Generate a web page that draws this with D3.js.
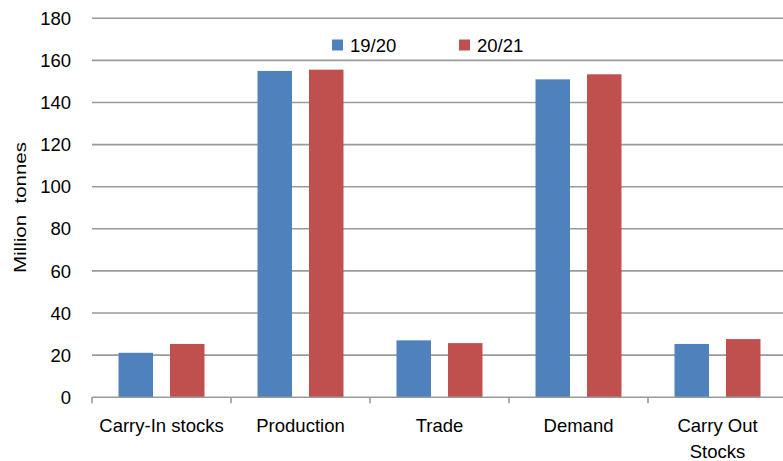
<!DOCTYPE html>
<html>
<head>
<meta charset="utf-8">
<script src="https://cdn.jsdelivr.net/npm/d3@7"></script>
<style>
  html, body { margin: 0; padding: 0; background: #fff; }
  svg { display: block; }
  text { font-family: "Liberation Sans", Arial, sans-serif; fill: #000; }
</style>
</head>
<body>
<svg id="chart" width="783" height="461"></svg>
<script>
const categories = ["Carry-In stocks", "Production", "Trade", "Demand", "Carry Out Stocks"];
const seriesNames = ["19/20", "20/21"];
const values1920 = [21.1, 155.0, 27.0, 151.0, 25.3];
const values2021 = [25.3, 155.6, 25.7, 153.4, 27.6];
const yTicks = [0, 20, 40, 60, 80, 100, 120, 140, 160, 180];
const colors = ["#4F81BD", "#C0504D"];
const yLabel = "Million\u00A0\u00A0tonnes";

(function () {
const svg = d3.select("#chart");
const W = 783;
const pLeft = 92, pRight = 787, pTop = 18.3, pBottom = 397.2;

const x = d3.scaleBand().domain(categories).range([pLeft, pRight]).padding(0);
const xs = d3.scaleBand().domain(seriesNames).range([0, x.bandwidth()]).paddingInner(0.33).paddingOuter(0.515);
const y = d3.scaleLinear().domain([0, 180]).range([pBottom, pTop]);

// gridlines
svg.append("g").selectAll("line").data(yTicks.filter(d => d > 0)).join("line")
  .attr("x1", pLeft).attr("x2", W)
  .attr("y1", d => y(d)).attr("y2", d => y(d))
  .attr("stroke", "#9a9a9a").attr("stroke-width", 1.6);

// y tick labels
svg.append("g").selectAll("text").data(yTicks).join("text")
  .attr("x", 71).attr("y", d => y(d)).attr("dy", "0.36em")
  .attr("text-anchor", "end").style("font-size", "18.5px")
  .text(d => d);

// bars
const data = categories.map((c, i) => ({ c, vals: [values1920[i], values2021[i]] }));
const groups = svg.append("g").selectAll("g").data(data).join("g")
  .attr("transform", d => `translate(${x(d.c)},0)`);
groups.selectAll("rect").data(d => d.vals.map((v, j) => ({ v, s: seriesNames[j], j })))
  .join("rect")
  .attr("x", d => xs(d.s)).attr("width", xs.bandwidth())
  .attr("y", d => y(d.v)).attr("height", d => y(0) - y(d.v))
  .attr("fill", d => colors[d.j]);

// x axis baseline & ticks
svg.append("line").attr("x1", pLeft).attr("x2", W).attr("y1", pBottom).attr("y2", pBottom)
  .attr("stroke", "#9a9a9a").attr("stroke-width", 1.6);
const bounds = categories.map(c => x(c)).concat([pRight]);
svg.append("g").selectAll("line").data(bounds).join("line")
  .attr("x1", d => d).attr("x2", d => d).attr("y1", pBottom).attr("y2", pBottom + 6)
  .attr("stroke", "#9a9a9a").attr("stroke-width", 1.6);

// x labels
const xl = svg.append("g").selectAll("text").data(categories).join("text")
  .attr("text-anchor", "middle").style("font-size", "18.5px")
  .attr("x", d => x(d) + x.bandwidth() / 2).attr("y", 432);
xl.each(function(d) {
  const t = d3.select(this);
  if (d === "Carry Out Stocks") {
    t.append("tspan").attr("x", x(d) + x.bandwidth() / 2).text("Carry Out");
    t.append("tspan").attr("x", x(d) + x.bandwidth() / 2).attr("dy", 25.5).text("Stocks");
  } else {
    t.text(d);
  }
});

// y label
svg.append("text").attr("transform", "translate(25.5,207.5) rotate(-90)")
  .attr("text-anchor", "middle").style("font-size", "16px")
  .attr("textLength", 131).attr("lengthAdjust", "spacingAndGlyphs")
  .text(yLabel);

// legend
const legendX = [332, 459];
const lg = svg.append("g").selectAll("g").data(seriesNames).join("g")
  .attr("transform", (d, i) => `translate(${legendX[i]},0)`);
lg.append("rect").attr("x", 0).attr("y", 39.5).attr("width", 11).attr("height", 11)
  .attr("fill", (d, i) => colors[i]);
lg.append("text").attr("x", 18).attr("y", 51.5).style("font-size", "18.5px").text(d => d);
})();
</script>
</body>
</html>
